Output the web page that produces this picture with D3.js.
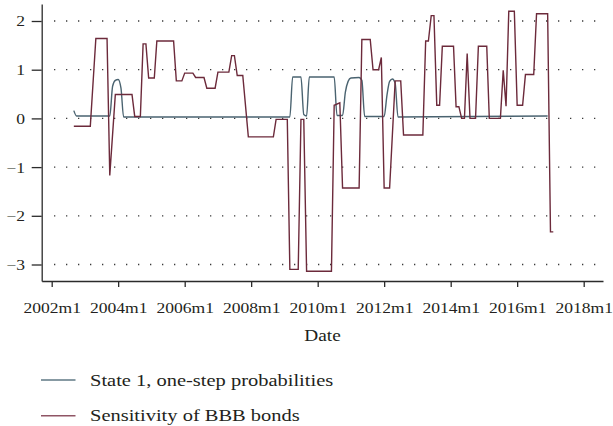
<!DOCTYPE html>
<html>
<head>
<meta charset="utf-8">
<script src="https://cdn.jsdelivr.net/npm/d3@7"></script>
<style>
  html, body { margin: 0; padding: 0; background: #ffffff; }
  svg { display: block; }
  text { font-family: "Liberation Serif", "Times New Roman", serif; fill: #231f20; }
</style>
</head>
<body>
<svg id="chart" width="613" height="426"></svg>
<script>
// ---- Data ----
const yTickValues = [-3, -2, -1, 0, 1, 2];
const xTickYears = [2002, 2004, 2006, 2008, 2010, 2012, 2014, 2016, 2018];
const seriesNames = ["State 1, one-step probabilities", "Sensitivity of BBB bonds"];
const axisTitle = "Date";

// State 1, one-step probabilities (breakpoints of the drawn line)
const stateDates = ["2002m9","2002m10","2003m10","2003m11","2003m12","2004m1","2004m2","2004m3",
  "2009m3","2009m4","2009m7","2009m8","2009m9","2009m10","2010m7","2010m8","2010m10","2010m11",
  "2010m12","2011m1","2011m4","2011m5","2011m6","2012m1","2012m2","2012m3","2012m4","2012m5",
  "2012m6","2016m12"];
const stateValues = [0.16,0.05,0.05,0.66,0.78,0.80,0.62,0.03,
  0.03,0.85,0.85,0.08,0.05,0.85,0.85,0.06,0.06,0.54,
  0.76,0.83,0.84,0.78,0.04,0.04,0.48,0.76,0.81,0.72,
  0.03,0.05];

// Sensitivity of BBB bonds (breakpoints of the drawn line)
const bbbDates = ["2002m9","2003m3","2003m5","2003m9","2003m10","2003m12","2004m6","2004m7","2004m9",
  "2004m10","2004m11","2004m12","2005m2","2005m3","2005m9","2005m10","2005m12","2006m1","2006m4",
  "2006m5","2006m8","2006m9","2006m12","2007m1","2007m5","2007m6","2007m7","2007m8","2007m10",
  "2007m12","2008m9","2008m10","2009m2","2009m3","2009m6","2009m7","2009m8","2009m9","2010m6",
  "2010m7","2010m9","2010m10","2011m4","2011m5","2011m8","2011m9","2011m11","2011m12","2012m1",
  "2012m3","2012m5","2012m7","2012m8","2013m3","2013m4","2013m5","2013m6","2013m7","2013m8",
  "2013m9","2013m10","2014m2","2014m3","2014m4","2014m5","2014m6","2014m7","2014m8","2014m10",
  "2014m11","2015m2","2015m3","2015m7","2015m8","2015m9","2015m10","2015m12","2016m1","2016m3",
  "2016m4","2016m7","2016m8","2016m12","2017m1","2017m2"];
const bbbValues = [-0.16,-0.16,1.64,1.64,-1.17,0.49,0.49,0.04,0.04,
  1.53,1.53,0.83,0.83,1.59,1.59,0.77,0.77,0.93,0.93,
  0.84,0.84,0.62,0.62,0.95,0.95,1.29,1.29,0.88,0.88,
  -0.38,-0.38,-0.02,-0.02,-3.10,-3.10,-0.02,-0.02,-3.14,-3.14,
  0.27,0.32,-1.43,-1.43,1.62,1.62,1.00,1.00,1.25,-1.43,
  -1.43,0.77,0.77,-0.34,-0.34,1.59,1.59,2.11,2.11,0.27,
  0.27,1.48,1.48,0.24,0.24,0.00,0.00,1.33,0.00,0.00,
  1.48,1.48,0.00,0.00,0.99,0.25,2.20,2.20,0.27,0.27,
  0.90,0.90,2.15,2.15,-2.33,-2.33];

const colors = ["#4a6370", "#6c2a3b"];
const legendColors = ["#5f7884", "#8f5565"];

// ---- Helpers ----
const parseYm = s => { const [y, m] = s.split("m").map(Number); return new Date(y, m - 1, 1); };
const stateData = stateDates.map((d, i) => ({ date: parseYm(d), value: stateValues[i] }));
const bbbData = bbbDates.map((d, i) => ({ date: parseYm(d), value: bbbValues[i] }));

const SX = 1.17; // horizontal text stretch seen in the reference
const svg = d3.select("#chart");

// ---- Scales ----
const xBase = d3.scaleTime()
  .domain([new Date(2002, 0, 1), new Date(2018, 0, 1)])
  .range([51.7, 583.7]);
const x = d3.scaleTime()
  .domain([xBase.invert(41.7), xBase.invert(603)])
  .range([41.7, 603]);

const yBase = d3.scaleLinear().domain([-3, 2]).range([264.5, 21]);
const y = d3.scaleLinear()
  .domain([yBase.invert(281), yBase.invert(4)])
  .range([281, 4]);

// ---- Grid (dotted) ----
svg.append("g").selectAll("line")
  .data(yTickValues)
  .join("line")
  .attr("x1", 54).attr("x2", 597)
  .attr("y1", d => y(d)).attr("y2", d => y(d))
  .attr("stroke", "#3a3a3a")
  .attr("stroke-width", 1.3)
  .attr("stroke-dasharray", "1.3 10.7");

// ---- Axes ----
const yAxis = svg.append("g")
  .attr("transform", "translate(41.7,0)")
  .call(d3.axisLeft(y).tickValues(yTickValues).tickSize(10).tickSizeOuter(0)
    .tickFormat(d3.format("d")));
yAxis.selectAll("text")
  .attr("x", -16.7 / SX)
  .attr("dy", "0.33em")
  .attr("transform", `scale(${SX},1)`)
  .style("font-size", "15px");

const xAxis = svg.append("g")
  .attr("transform", "translate(0,281)")
  .call(d3.axisBottom(x)
    .tickValues(xTickYears.map(yr => new Date(yr, 0, 1)))
    .tickSize(6).tickSizeOuter(0)
    .tickFormat(d => d.getFullYear() + "m1"));
xAxis.selectAll("text")
  .attr("y", 32).attr("dy", 0)
  .attr("transform", `scale(${SX},1)`)
  .style("font-size", "15px");

[yAxis, xAxis].forEach(g => {
  g.selectAll(".domain").attr("stroke", "#2b2b2b").attr("stroke-width", 1.3);
  g.selectAll(".tick line").attr("stroke", "#2b2b2b").attr("stroke-width", 1.3);
});

// axis title
svg.append("text")
  .attr("transform", `translate(322.5,340.5) scale(${SX},1)`)
  .attr("text-anchor", "middle")
  .style("font-size", "16.5px")
  .text(axisTitle);

// ---- Lines ----
const lineState = d3.line().x(d => x(d.date)).y(d => y(d.value)).curve(d3.curveMonotoneX);
const lineBbb = d3.line().x(d => x(d.date)).y(d => y(d.value));

svg.append("path").datum(stateData)
  .attr("d", lineState)
  .attr("fill", "none").attr("stroke", colors[0]).attr("stroke-width", 1.4)
  .attr("stroke-linejoin", "round");

svg.append("path").datum(bbbData)
  .attr("d", lineBbb)
  .attr("fill", "none").attr("stroke", colors[1]).attr("stroke-width", 1.4)
  .attr("stroke-linejoin", "miter");

// ---- Legend ----
const legend = svg.append("g");
const legendY = [380, 415.7];
seriesNames.forEach((name, i) => {
  legend.append("line")
    .attr("x1", 41).attr("x2", 75.5)
    .attr("y1", legendY[i]).attr("y2", legendY[i])
    .attr("stroke", legendColors[i]).attr("stroke-width", 1.4);
  legend.append("text")
    .attr("transform", `translate(90,${legendY[i] + 5.5}) scale(${SX},1)`)
    .style("font-size", "17.5px")
    .text(name);
});
</script>
</body>
</html>
